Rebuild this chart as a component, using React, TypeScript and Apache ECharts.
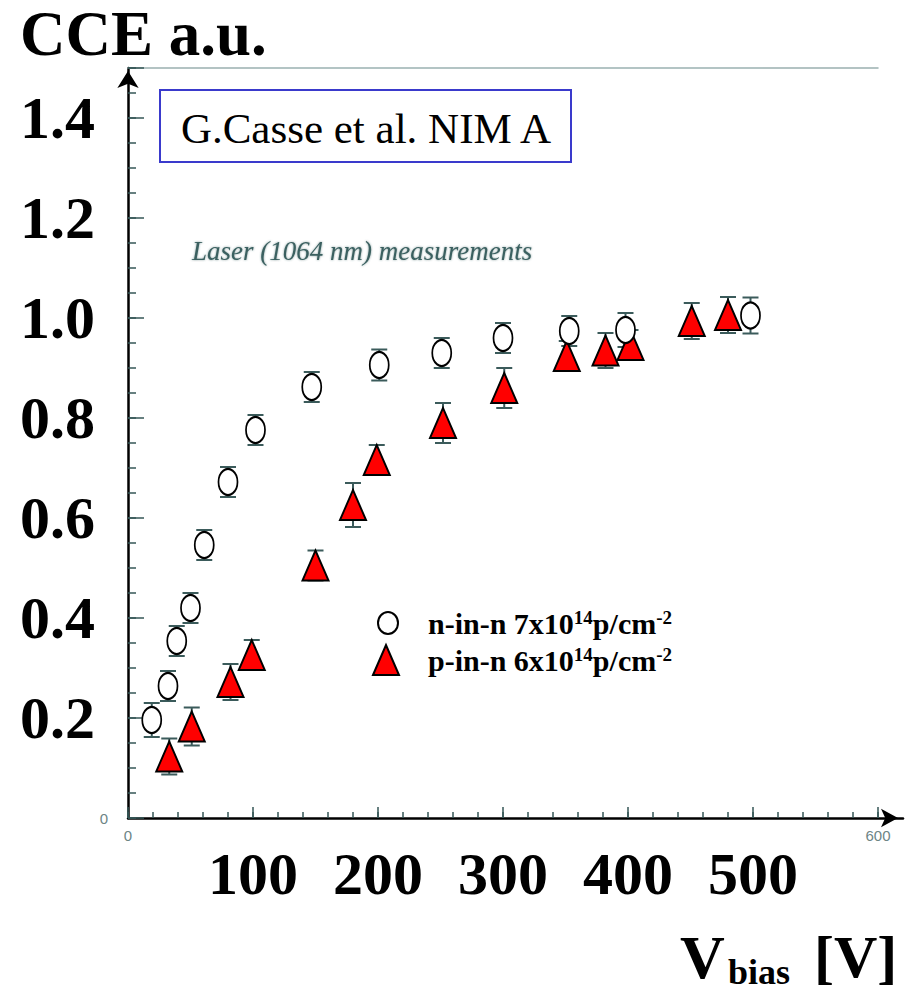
import { useEffect, useRef } from 'react';
import * as echarts from 'echarts';

// n-in-n, 7x10^14 p/cm^-2
const nVoltage = [19, 32, 39, 50, 61, 80, 102, 147, 201, 251, 300, 353, 398, 498];
const nCCE = [0.196, 0.264, 0.354, 0.42, 0.546, 0.672, 0.776, 0.862, 0.906, 0.93, 0.96, 0.974, 0.976, 1.005];
const nErr = [0.034, 0.03, 0.03, 0.03, 0.03, 0.03, 0.03, 0.03, 0.031, 0.03, 0.03, 0.03, 0.034, 0.036];

// p-in-n, 6x10^14 p/cm^-2
const pVoltage = [33, 51, 82, 99, 150, 180, 199, 252, 301, 351, 382, 402, 451, 480];
const pCCE = [0.123, 0.183, 0.272, 0.326, 0.505, 0.626, 0.716, 0.79, 0.86, 0.924, 0.935, 0.946, 0.994, 1.006];
const pErr = [0.036, 0.038, 0.036, 0.03, 0.03, 0.044, 0.03, 0.04, 0.04, 0.03, 0.035, 0.03, 0.036, 0.036];

const xMajorLabels = [100, 200, 300, 400, 500];
const xSmallLabels = [0, 600];
const yMajorLabels = ['0.2', '0.4', '0.6', '0.8', '1.0', '1.2', '1.4'];
const ySmallLabels = ['0'];

const seriesNames = ['n-in-n', 'p-in-n'];
const legendTexts: Record<string, string> = {
  'n-in-n': '{t|n-in-n 7x10}{s|14}{t|p/cm}{s|-2}',
  'p-in-n': '{t|p-in-n 6x10}{s|14}{t|p/cm}{s|-2}',
};

const SERIF = '"Liberation Serif", "Times New Roman", serif';
const TICK = '#345656';

function errorBars(xs: number[], ys: number[], es: number[]) {
  return {
    type: 'custom',
    xAxisIndex: 0,
    yAxisIndex: 0,
    z: 1,
    silent: true,
    data: xs.map((x, i) => [x, ys[i], es[i]]),
    renderItem: (_params: any, api: any) => {
      const x = api.value(0);
      const y = api.value(1);
      const e = api.value(2);
      const top = api.coord([x, y + e]);
      const bot = api.coord([x, y - e]);
      const half = 8;
      const style = { stroke: '#3b5b5b', lineWidth: 2 };
      return {
        type: 'group',
        children: [
          { type: 'line', shape: { x1: top[0], y1: top[1], x2: bot[0], y2: bot[1] }, style },
          { type: 'line', shape: { x1: top[0] - half, y1: top[1], x2: top[0] + half, y2: top[1] }, style },
          { type: 'line', shape: { x1: bot[0] - half, y1: bot[1], x2: bot[0] + half, y2: bot[1] }, style },
        ],
      };
    },
  };
}

export default function App() {
  const ref = useRef<HTMLDivElement>(null);

  useEffect(() => {
    if (!ref.current) return;
    const chart = echarts.init(ref.current, null, { renderer: 'svg' });

    const bigLabel = { fontFamily: SERIF, fontWeight: 'bold', fontSize: 60, color: '#000' };
    const smallLabel = { fontFamily: 'Liberation Sans, Arial, sans-serif', fontSize: 15, color: '#6d8585' };

    chart.setOption({
      animation: false,
      backgroundColor: '#fff',
      textStyle: { fontFamily: SERIF },
      grid: [
        { left: 128, right: 30, top: 68, bottom: 175 },
        { left: 128, right: 5, top: 68, bottom: 175 },
      ],
      xAxis: [
        {
          gridIndex: 0, type: 'value', position: 'bottom', min: 0, max: 600, interval: 20,
          axisLine: { show: false },
          axisTick: { inside: true, length: 6, lineStyle: { color: TICK, width: 1.5 } },
          splitLine: { show: false },
          axisLabel: {
            ...smallLabel, margin: 10,
            formatter: (v: number) => (xSmallLabels.includes(Math.round(v)) ? String(Math.round(v)) : ''),
          },
        },
        {
          gridIndex: 0, type: 'value', position: 'bottom', min: 0, max: 600, interval: 100,
          axisLine: { show: false },
          axisTick: { inside: true, length: 11, lineStyle: { color: TICK, width: 1.5 } },
          splitLine: { show: false },
          axisLabel: {
            ...bigLabel, margin: 26,
            formatter: (v: number) => (xMajorLabels.includes(Math.round(v)) ? String(Math.round(v)) : ''),
          },
        },
        {
          gridIndex: 0, type: 'value', position: 'top', min: 0, max: 600,
          axisLine: { show: true, lineStyle: { color: '#9ab0b0', width: 1.5 } },
          axisTick: { show: false }, axisLabel: { show: false }, splitLine: { show: false },
        },
        {
          gridIndex: 1, type: 'value', position: 'bottom', min: 0, max: 620,
          axisLine: {
            show: true, lineStyle: { color: '#000', width: 2.5 },
            symbol: ['none', 'arrow'], symbolSize: [14, 17], symbolOffset: [0, -5],
          },
          axisTick: { show: false }, axisLabel: { show: false }, splitLine: { show: false },
        },
      ],
      yAxis: [
        {
          gridIndex: 0, type: 'value', position: 'left', min: 0, max: 1.5, interval: 0.05,
          axisLine: { show: false },
          axisTick: { inside: true, length: 8, lineStyle: { color: TICK, width: 1.5 } },
          splitLine: { show: false },
          axisLabel: {
            ...smallLabel, margin: 20,
            formatter: (v: number) => {
              const s = String(Math.round(v * 100) / 100);
              return ySmallLabels.includes(s) ? s : '';
            },
          },
        },
        {
          gridIndex: 0, type: 'value', position: 'left', min: 0, max: 1.5, interval: 0.2,
          axisLine: { show: false },
          axisTick: { inside: true, length: 16, lineStyle: { color: TICK, width: 1.5 } },
          splitLine: { show: false },
          axisLabel: {
            ...bigLabel, margin: 33, padding: [6, 0, 0, 0],
            formatter: (v: number) => {
              const s = v.toFixed(1);
              return yMajorLabels.includes(s) ? s : '';
            },
          },
        },
        {
          gridIndex: 1, type: 'value', position: 'left', min: 0, max: 1.5,
          axisLine: {
            show: true, lineStyle: { color: '#000', width: 2.5 },
            symbol: ['none', 'arrow'], symbolSize: [16, 17], symbolOffset: [0, -3],
          },
          axisTick: { show: false }, axisLabel: { show: false }, splitLine: { show: false },
        },
      ],
      legend: {
        orient: 'vertical',
        left: 367,
        top: 602,
        itemWidth: 50,
        itemHeight: 30,
        itemGap: 5,
        symbolKeepAspect: false,
        selectedMode: false,
        data: [
          {
            name: seriesNames[0],
            icon: 'path://M0,0M50,30M5,15A10,11,0,1,1,25,15A10,11,0,1,1,5,15Z',
            itemStyle: { color: '#fff', borderColor: '#000', borderWidth: 2 },
          },
          {
            name: seriesNames[1],
            icon: 'path://M0,0M50,30M0,30L13,0L26,30Z',
            itemStyle: { color: '#ff0000', borderColor: '#000', borderWidth: 2 },
          },
        ],
        formatter: (name: string) => legendTexts[name] ?? name,
        textStyle: {
          rich: {
            t: { fontFamily: SERIF, fontWeight: 'bold', fontSize: 30, lineHeight: 30, color: '#000' },
            s: { fontFamily: SERIF, fontWeight: 'bold', fontSize: 19, lineHeight: 19, color: '#000', verticalAlign: 'top' },
          },
        },
      },
      series: [
        errorBars(pVoltage, pCCE, pErr),
        errorBars(nVoltage, nCCE, nErr),
        {
          name: seriesNames[1],
          type: 'scatter',
          xAxisIndex: 0,
          yAxisIndex: 0,
          z: 3,
          symbol: 'triangle',
          symbolSize: [26, 30],
          itemStyle: { color: '#ff0000', borderColor: '#000', borderWidth: 2, opacity: 1 },
          data: pVoltage.map((x, i) => [x, pCCE[i]]),
        },
        {
          name: seriesNames[0],
          type: 'scatter',
          xAxisIndex: 0,
          yAxisIndex: 0,
          z: 4,
          symbol: 'circle',
          symbolSize: [19, 26],
          itemStyle: { color: '#fff', borderColor: '#000', borderWidth: 2, opacity: 1 },
          data: nVoltage.map((x, i) => [x, nCCE[i]]),
        },
      ],
      graphic: [
        {
          type: 'text', x: 20, y: 34, z: 10,
          style: { text: 'CCE a.u.', font: `bold 63px ${SERIF}`, fill: '#000', align: 'left', verticalAlign: 'middle' },
        },
        {
          type: 'rect', z: 5,
          shape: { x: 160, y: 90, width: 411, height: 72 },
          style: { fill: '#fff', stroke: '#3a3acc', lineWidth: 2 },
        },
        {
          type: 'text', x: 366, y: 128, z: 6,
          style: { text: 'G.Casse et al. NIM A', font: `43px ${SERIF}`, fill: '#000', align: 'center', verticalAlign: 'middle' },
        },
        {
          type: 'text', x: 192, y: 251, z: 6,
          style: {
            text: 'Laser (1064 nm) measurements', font: `italic 27px ${SERIF}`, fill: '#3a6060',
            align: 'left', verticalAlign: 'middle',
            textShadowColor: 'rgba(58,96,96,0.6)', textShadowBlur: 2,
          },
        },
        {
          type: 'text', x: 680, y: 957, z: 6,
          style: { text: 'V', font: `bold 62px ${SERIF}`, fill: '#000', align: 'left', verticalAlign: 'middle' },
        },
        {
          type: 'text', x: 728, y: 972, z: 6,
          style: { text: 'bias', font: `bold 36px ${SERIF}`, fill: '#000', align: 'left', verticalAlign: 'middle' },
        },
        {
          type: 'text', x: 814, y: 957, z: 6,
          style: { text: '[V]', font: `bold 60px ${SERIF}`, fill: '#000', align: 'left', verticalAlign: 'middle' },
        },
      ],
    });

    return () => chart.dispose();
  }, []);

  return (
    <div
      ref={ref}
      style={{ position: 'fixed', left: 0, top: 0, width: 908, height: 993, background: '#fff' }}
    />
  );
}
